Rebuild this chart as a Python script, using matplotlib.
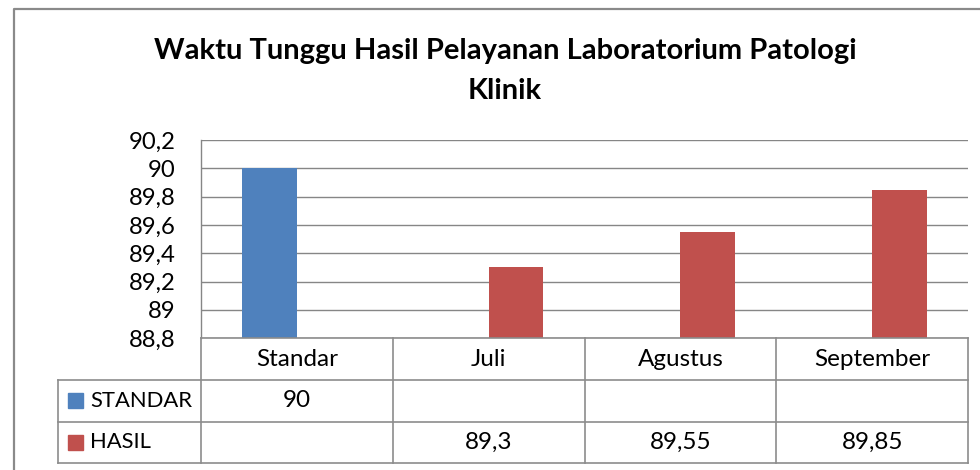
import matplotlib
matplotlib.use("Agg")
import matplotlib.pyplot as plt
import numpy as np
from matplotlib.lines import Line2D
from matplotlib.patches import Rectangle

plt.rcParams['font.family'] = ['Lato', 'DejaVu Sans']

# ---- data ----
title_line1 = "Waktu Tunggu Hasil Pelayanan Laboratorium Patologi"
title_line2 = "Klinik"
categories = ["Standar", "Juli", "Agustus", "September"]
series_names = ["STANDAR", "HASIL"]
standar_values = [90, np.nan, np.nan, np.nan]
hasil_values = [np.nan, 89.3, 89.55, 89.85]
series_colors = ["#4F81BD", "#C0504D"]
y_ticks = [88.8, 89.0, 89.2, 89.4, 89.6, 89.8, 90.0, 90.2]

W, H = 980, 470
fig = plt.figure(figsize=(W / 100, H / 100), dpi=100)

# layout (pixels)
ax_left, ax_right, ax_top, ax_bottom = 201, 968, 140, 338.3
row_bounds = [338.3, 380, 421.5, 463]
table_left = 58
grid_col = "#868686"
tbl_col = "#8c8c8c"
fs_tick = 17.2
fs_cell = 17.5
fs_leg = 15.8

ax = fig.add_axes([ax_left / W, 1 - ax_bottom / H, (ax_right - ax_left) / W, (ax_bottom - ax_top) / H])
x = np.arange(len(categories))
bw = 1 / 3.5
all_series = [standar_values, hasil_values]
for i, (vals, col) in enumerate(zip(all_series, series_colors)):
    off = (i - 0.5) * bw
    ax.bar(x + off, np.array(vals, dtype=float), width=bw, color=col, zorder=3)

ax.set_xlim(-0.5, len(categories) - 0.5)
ax.set_ylim(88.8, 90.2)
ax.set_yticks(y_ticks)
ax.set_yticklabels([f"{v:g}".replace(".", ",") for v in y_ticks], fontsize=fs_tick)
ax.set_xticks([])
ax.tick_params(axis='y', length=0, pad=18.5)
ax.yaxis.grid(True, color=grid_col, linewidth=1.0, zorder=0)
for s in ["top", "right", "bottom"]:
    ax.spines[s].set_visible(False)
ax.spines["left"].set_color(grid_col)
ax.spines["left"].set_linewidth(1.0)

# overlay for table and frame
ov = fig.add_axes([0, 0, 1, 1], zorder=5)
ov.set_xlim(0, W)
ov.set_ylim(H, 0)
ov.axis("off")
ov.patch.set_alpha(0)

# outer chart frame
ov.add_line(Line2D([13.5, 13.5, W + 5], [H + 5, 8.5, 8.5], color="#8a8a8a", lw=1.6))

# title
fig.text(505 / W, 1 - 51 / H, title_line1, ha="center", va="center", fontsize=21, fontweight="bold")
fig.text(505 / W, 1 - 91 / H, title_line2, ha="center", va="center", fontsize=21, fontweight="bold")

# table lines
ncol = len(categories)
col_w = (ax_right - ax_left) / ncol
col_edges = [ax_left + k * col_w for k in range(ncol + 1)]
lw_t = 1.2
ov.add_line(Line2D([ax_left, ax_right], [row_bounds[0]] * 2, color=tbl_col, lw=lw_t))
for yb in row_bounds[1:]:
    ov.add_line(Line2D([table_left, ax_right], [yb] * 2, color=tbl_col, lw=lw_t))
for xe in col_edges:
    ov.add_line(Line2D([xe, xe], [row_bounds[0], row_bounds[-1]], color=tbl_col, lw=lw_t))
ov.add_line(Line2D([table_left, table_left], [row_bounds[1], row_bounds[-1]], color=tbl_col, lw=lw_t))

# header texts
hy = (row_bounds[0] + row_bounds[1]) / 2
for k, c in enumerate(categories):
    ov.text((col_edges[k] + col_edges[k + 1]) / 2, hy, c, ha="center", va="center", fontsize=fs_cell)

def fmt(v):
    if np.isnan(v):
        return ""
    return f"{v:g}".replace(".", ",")

for r, (name, vals, col) in enumerate(zip(series_names, all_series, series_colors)):
    y0, y1 = row_bounds[r + 1], row_bounds[r + 2]
    yc = (y0 + y1) / 2
    ov.add_patch(Rectangle((68, yc - 7.5), 15, 15, color=col))
    ov.text(90, yc, name, ha="left", va="center", fontsize=fs_leg)
    for k, v in enumerate(vals):
        ov.text((col_edges[k] + col_edges[k + 1]) / 2, yc, fmt(v), ha="center", va="center", fontsize=fs_cell)

fig.savefig("out.png", dpi=100)
